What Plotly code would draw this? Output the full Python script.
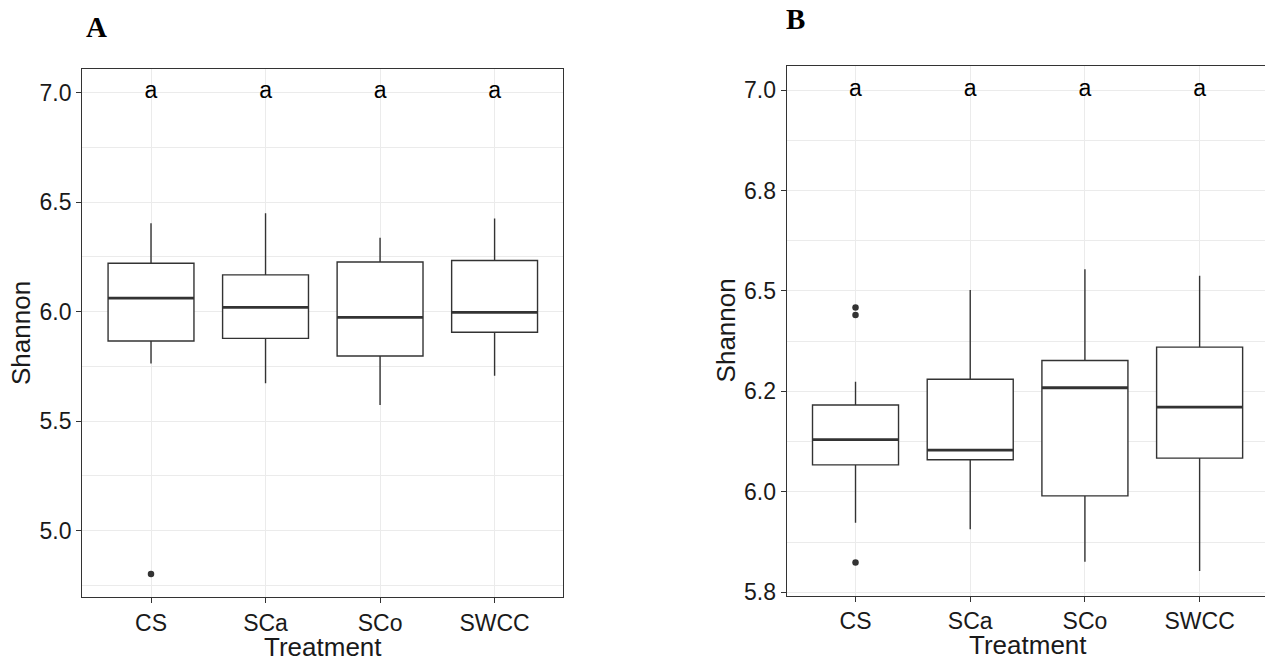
import plotly.graph_objects as go

# Treatments on the x axis
categories = ["CS", "SCa", "SCo", "SWCC"]

# Panel A: Shannon diversity box statistics per treatment
a_q1 = [5.866, 5.878, 5.798, 5.906]
a_median = [6.062, 6.020, 5.974, 5.997]
a_q3 = [6.221, 6.168, 6.227, 6.234]
a_lower = [5.764, 5.673, 5.574, 5.708]
a_upper = [6.404, 6.449, 6.338, 6.425]
a_outlier_cat = ["CS"]
a_outlier_val = [4.802]

# Panel B: Shannon diversity box statistics per treatment
b_q1 = [6.067, 6.080, 5.990, 6.084]
b_median = [6.130, 6.104, 6.259, 6.211]
b_q3 = [6.216, 6.280, 6.327, 6.360]
b_lower = [5.923, 5.907, 5.826, 5.803]
b_upper = [6.274, 6.502, 6.554, 6.538]
b_outlier_cat = ["CS", "CS", "CS"]
b_outlier_val = [6.459, 6.440, 5.824]

# Significance letters, placed at a fixed height
letters = ["a", "a", "a", "a"]
letter_y = 7.0

# Tick marks and labels
a_ytick_vals = [5.0, 5.5, 6.0, 6.5, 7.0]
a_ytick_text = ["5.0", "5.5", "6.0", "6.5", "7.0"]
a_yminor_vals = [4.75, 5.25, 5.75, 6.25, 6.75]
b_ytick_vals = [5.75, 6.0, 6.25, 6.5, 6.75, 7.0]
b_ytick_text = ["5.8", "6.0", "6.2", "6.5", "6.8", "7.0"]
b_yminor_vals = [5.875, 6.125, 6.375, 6.625, 6.875]

W, H = 1265, 661
INK = "#333333"
GRID = "#EBEBEB"
SANS = "Liberation Sans, Arial, sans-serif"
SERIF = "Liberation Serif, Times New Roman, serif"
BOX_W = 0.75

xpos = list(range(len(categories)))


def px_x(p):
    return p / W


def px_y(p):
    return 1 - p / H


fig = go.Figure()


def add_panel(xa, ya, q1, med, q3, lo, hi, out_cat, out_val):
    fig.add_trace(go.Box(
        x=xpos, q1=q1, median=med, q3=q3, lowerfence=lo, upperfence=hi,
        width=BOX_W, whiskerwidth=0, boxpoints=False,
        fillcolor="white", line=dict(color=INK, width=1.4),
        hoverinfo="skip", showlegend=False, xaxis=xa, yaxis=ya,
    ))
    # thicker median bars
    mx, my = [], []
    for i, m in zip(xpos, med):
        mx += [i - BOX_W / 2, i + BOX_W / 2, None]
        my += [m, m, None]
    fig.add_trace(go.Scatter(
        x=mx, y=my, mode="lines", line=dict(color=INK, width=2.8),
        hoverinfo="skip", showlegend=False, xaxis=xa, yaxis=ya,
    ))
    fig.add_trace(go.Scatter(
        x=[categories.index(c) for c in out_cat], y=out_val, mode="markers",
        marker=dict(color=INK, size=6.5), hoverinfo="skip",
        showlegend=False, xaxis=xa, yaxis=ya,
    ))
    fig.add_trace(go.Scatter(
        x=xpos, y=[letter_y] * len(xpos), text=letters, mode="text",
        textposition="middle center", cliponaxis=False,
        textfont=dict(family=SANS, size=23, color="black"),
        hoverinfo="skip", showlegend=False, xaxis=xa, yaxis=ya,
    ))


add_panel("x", "y", a_q1, a_median, a_q3, a_lower, a_upper,
          a_outlier_cat, a_outlier_val)
add_panel("x2", "y2", b_q1, b_median, b_q3, b_lower, b_upper,
          b_outlier_cat, b_outlier_val)

tickfont = dict(family=SANS, size=23, color="#1a1a1a")
common_x = dict(
    tickvals=xpos, ticktext=categories, showgrid=True, gridcolor=GRID,
    gridwidth=1, zeroline=False, showline=True, linecolor=INK, linewidth=1.3,
    ticks="outside", ticklen=5, tickcolor=INK, tickfont=tickfont,
    fixedrange=True, automargin=False,
)
common_y = dict(
    showgrid=True, gridcolor=GRID, gridwidth=1, zeroline=False,
    showline=True, linecolor=INK, linewidth=1.3, ticks="outside", ticklen=5,
    tickcolor=INK, tickfont=tickfont, fixedrange=True, automargin=False,
)

fig.update_layout(
    width=W, height=H, autosize=False,
    margin=dict(l=0, r=0, t=0, b=0, pad=0, autoexpand=False),
    paper_bgcolor="white", plot_bgcolor="white", showlegend=False,
    xaxis=dict(common_x, domain=[px_x(82.3), px_x(563.3)], range=[-0.6, 3.6],
               mirror=True, anchor="y"),
    yaxis=dict(common_y, domain=[px_y(597.3), px_y(69)], range=[4.696, 7.108],
               tickvals=a_ytick_vals, ticktext=a_ytick_text, mirror=True,
               anchor="x",
               minor=dict(tickvals=a_yminor_vals, showgrid=True,
                          gridcolor=GRID, gridwidth=1, ticks="")),
    xaxis2=dict(common_x, domain=[px_x(786.7), 1.0], range=[-0.6, 3.57],
                mirror=True, anchor="y2"),
    yaxis2=dict(common_y, domain=[px_y(595.7), px_y(65.7)],
                range=[5.7415, 7.0605], tickvals=b_ytick_vals,
                ticktext=b_ytick_text, mirror=False, anchor="x2",
                minor=dict(tickvals=b_yminor_vals, showgrid=True,
                           gridcolor=GRID, gridwidth=1, ticks="")),
)

title_font = dict(family=SANS, size=26, color="#1a1a1a")
panel_font = dict(family=SERIF, size=29, color="black")
annotations = [
    dict(text="<b>A</b>", x=px_x(96.5), y=px_y(27), font=panel_font),
    dict(text="<b>B</b>", x=px_x(795), y=px_y(18.5), font=panel_font),
    dict(text="Shannon", x=px_x(21), y=px_y(333), font=title_font,
         textangle=-90),
    dict(text="Shannon", x=px_x(725.7), y=px_y(330.7), font=title_font,
         textangle=-90),
    dict(text="Treatment", x=px_x(322.8), y=px_y(647), font=title_font),
    dict(text="Treatment", x=px_x(1027.6), y=px_y(645), font=title_font),
]
for a in annotations:
    fig.add_annotation(xref="paper", yref="paper", showarrow=False,
                       xanchor="center", yanchor="middle", **a)

fig.write_html("out.html")
